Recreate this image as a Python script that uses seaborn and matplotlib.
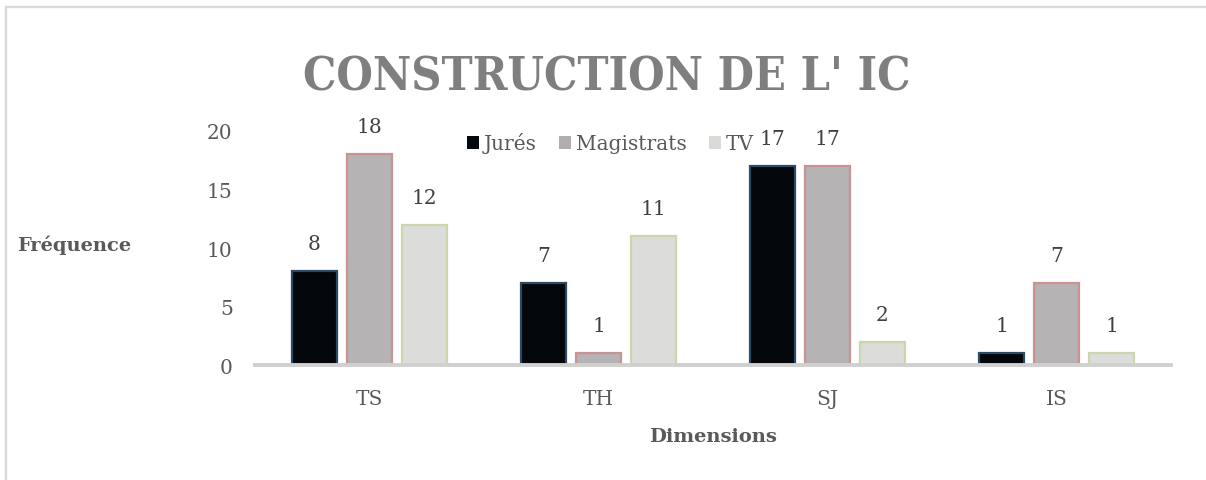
import matplotlib
matplotlib.use("Agg")
import matplotlib.pyplot as plt
import seaborn as sns
import pandas as pd
from matplotlib.lines import Line2D
from matplotlib.patches import Patch

categories = ["TS", "TH", "SJ", "IS"]
series = ["Jurés", "Magistrats", "TV"]
jures = [8, 7, 17, 1]
magistrats = [18, 1, 17, 7]
tv = [12, 11, 2, 1]
yticks = [0, 5, 10, 15, 20]

df = pd.DataFrame({
    "Dimension": categories * 3,
    "Groupe": [series[0]] * 4 + [series[1]] * 4 + [series[2]] * 4,
    "Fréquence": jures + magistrats + tv,
})

face = {"Jurés": "#03060a", "Magistrats": "#b5b3b3", "TV": "#dcdcda"}
edge = {"Jurés": "#2c4a66", "Magistrats": "#c99393", "TV": "#c9d7aa"}
legend_col = {"Jurés": "#05080c", "Magistrats": "#b3adad", "TV": "#d9dbd6"}

sns.set_theme(style="white")
plt.rcParams["font.family"] = ["DejaVu Serif"]

fig = plt.figure(figsize=(12.06, 4.81), dpi=100)
ax = fig.add_axes([0.2114, 0.239, 0.7597, 0.4866])

sns.barplot(data=df, x="Dimension", y="Fréquence", hue="Groupe",
            order=categories, hue_order=series, palette=face,
            width=0.72, gap=0.18, ax=ax, legend=False, saturation=1)

for cont, s in zip(ax.containers, series):
    for p in cont:
        p.set_edgecolor(edge[s])
        p.set_linewidth(1.6)
    ax.bar_label(cont, padding=13, fontsize=14.5, color="#404040")

ax.set_xlim(-0.5, 3.5)
ax.set_ylim(0, 20)
ax.set_yticks(yticks)
ax.set_xlabel("")
ax.set_ylabel("")
for sp in ["top", "right", "left"]:
    ax.spines[sp].set_visible(False)
ax.spines["bottom"].set_color("#d0d0d0")
ax.spines["bottom"].set_linewidth(2.8)
ax.tick_params(axis="y", length=0, pad=16, labelsize=14.5, labelcolor="#595959")
ax.tick_params(axis="x", length=0, pad=17, labelsize=14.5, labelcolor="#595959")
ax.grid(False)

handles = [Patch(facecolor=legend_col[s], edgecolor="none", label=s) for s in series]
fig.legend(handles=handles, loc="center", bbox_to_anchor=(0.506, 0.701), ncol=3,
           frameon=False, fontsize=14.5, handlelength=0.6, handleheight=0.6,
           handletextpad=0.25, columnspacing=1.1, labelcolor="#595959")

fig.text(0.503, 0.838, "CONSTRUCTION DE L' IC", ha="center", va="center",
         fontsize=33.6, fontweight="bold", color="#7f7f7f",
         family="DejaVu Serif", fontstretch="condensed")
fig.text(0.014, 0.49, "Fréquence", ha="left", va="center", fontsize=14,
         fontweight="bold", color="#595959")
fig.text(0.591, 0.091, "Dimensions", ha="center", va="center", fontsize=14,
         fontweight="bold", color="#595959")

fig.add_artist(Line2D([0.0047, 0.0047], [0.0, 0.983], transform=fig.transFigure,
                      color="#d9d9d9", linewidth=1.6))
fig.add_artist(Line2D([0.0047, 1.0], [0.983, 0.983], transform=fig.transFigure,
                      color="#d9d9d9", linewidth=1.6))

fig.savefig("out.png", dpi=100)
